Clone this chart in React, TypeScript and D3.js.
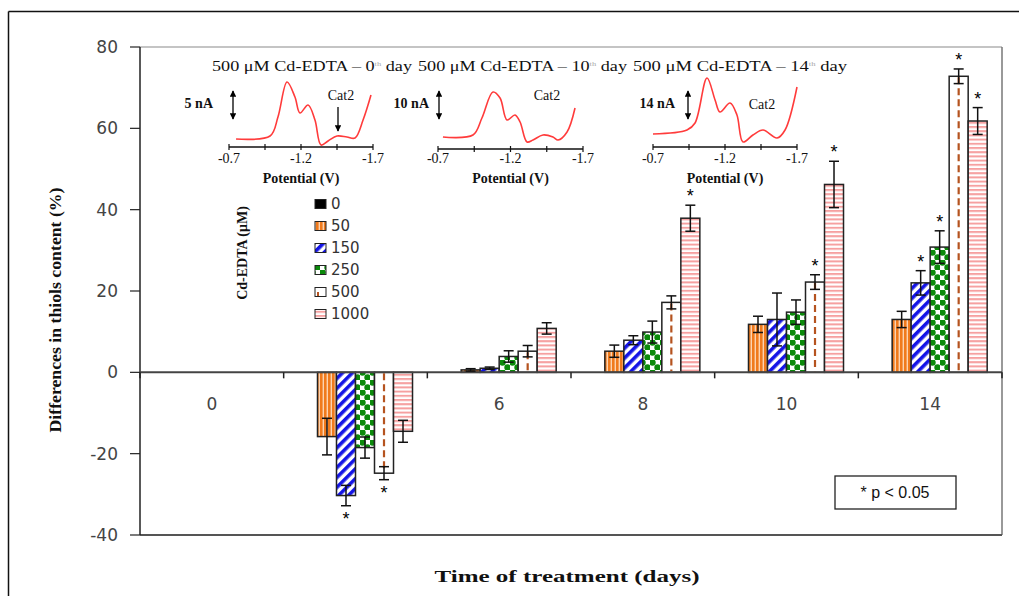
import React from "react";
import * as d3 from "d3";

const days = ["0", "2", "6", "8", "10", "14"];
const doses = ["0", "50", "150", "250", "500", "1000"];

const dose0 = [0, 0, 0, 0, 0, 0];
const dose50 = [0, -15.8, 0.6, 5.2, 11.8, 13];
const dose150 = [0, -30.3, 1, 7.9, 13, 22];
const dose250 = [0, -18.5, 3.9, 9.9, 14.8, 30.8];
const dose500 = [0, -24.8, 5.2, 17.2, 22.2, 72.8];
const dose1000 = [0, -14.5, 10.8, 37.9, 46.2, 61.8];

const err0 = [0, 0, 0, 0, 0, 0];
const err50 = [0, 4.5, 0.3, 1.5, 2, 2];
const err150 = [0, 2.5, 0.3, 1.1, 6.5, 3];
const err250 = [0, 2.6, 1.4, 2.7, 3, 4];
const err500 = [0, 1.6, 1.4, 1.6, 1.8, 1.8];
const err1000 = [0, 2.7, 1.4, 3.2, 5.7, 3.3];

const star0 = [false, false, false, false, false, false];
const star50 = [false, false, false, false, false, false];
const star150 = [false, true, false, false, false, true];
const star250 = [false, false, false, false, false, true];
const star500 = [false, true, false, false, true, true];
const star1000 = [false, false, false, true, true, true];

const values = [dose0, dose50, dose150, dose250, dose500, dose1000];
const errors = [err0, err50, err150, err250, err500, err1000];
const stars = [star0, star50, star150, star250, star500, star1000];

const yTicks = [-40, -20, 0, 20, 40, 60, 80];

// inset voltammograms: [potential (V), relative current]
const curveDay0: [number, number][] = [
  [-0.749, 8], [-0.985, 11], [-1.04, 30], [-1.103, 65], [-1.158, 50], [-1.193, 34],
  [-1.249, 42], [-1.297, 27], [-1.339, 2], [-1.388, 6], [-1.45, 11], [-1.519, 10],
  [-1.575, 9], [-1.631, 27], [-1.686, 52],
];
const curveDay10: [number, number][] = [
  [-0.734, 12], [-0.941, 14], [-1.003, 31], [-1.079, 57], [-1.128, 51], [-1.176, 29],
  [-1.231, 34], [-1.266, 27], [-1.314, 7], [-1.355, 9], [-1.424, 14], [-1.493, 12],
  [-1.528, 9], [-1.59, 17], [-1.645, 41],
];
const curveDay14: [number, number][] = [
  [-0.7, 13], [-0.936, 17], [-0.992, 24], [-1.075, 69], [-1.131, 47], [-1.165, 35],
  [-1.235, 44], [-1.283, 32], [-1.325, 5], [-1.394, 12], [-1.464, 17], [-1.561, 9],
  [-1.617, 17], [-1.7, 60],
];
const insetTitles = ["0", "10", "14"];
const insetScales = ["5 nA", "10 nA", "14 nA"];
const insetTicks = [-0.7, -0.95, -1.2, -1.45, -1.7];
const insetTickLabels = [-0.7, -1.2, -1.7];

const insets = [
  { data: curveDay0, x0: 229, x1: 373, axisY: 147, titleX: 212, titleW: 200, nAx: 213, arrowX: 233, catX: 341, catY: 100, catArrow: true },
  { data: curveDay10, x0: 438, x1: 583, axisY: 149, titleX: 418, titleW: 209, nAx: 429, arrowX: 439, catX: 547, catY: 100, catArrow: false },
  { data: curveDay14, x0: 653, x1: 797, axisY: 147, titleX: 633, titleW: 214, nAx: 675, arrowX: 688, catX: 762, catY: 109, catArrow: false },
];

const fills = ["#000", "url(#p50)", "url(#p150)", "url(#p250)", "#fff", "url(#p1000)"];

const serif = "'Liberation Serif', 'DejaVu Serif', serif";
const sans = "'DejaVu Sans', sans-serif";
const arial = "'Liberation Sans', Arial, sans-serif";

export default function App() {
  const W = 1019, H = 596;
  const left = 140, right = 1002, top = 47, bottom = 535;
  const y = d3.scaleLinear().domain([-40, 80]).range([bottom, top]);
  const x0 = d3.scaleBand<string>().domain(days).range([left, right]);
  const x1 = d3.scaleBand<string>().domain(doses).range([0, x0.bandwidth()]).paddingOuter(0.78);
  const bw = x1.bandwidth();
  const y0 = y(0);

  const legendY = d3.scalePoint<string>().domain(doses).range([204, 314]);

  return (
    <div style={{ position: "absolute", left: 0, top: 0 }}>
      <svg width={W} height={H} style={{ display: "block", background: "#fff" }}>
        <defs>
          <pattern id="p50" patternUnits="userSpaceOnUse" width={4} height={4}>
            <rect width={4} height={4} fill="#fcd3b0" />
            <rect width={2.6} height={4} fill="#f07a1c" />
          </pattern>
          <pattern id="p150" patternUnits="userSpaceOnUse" width={7} height={7} patternTransform="rotate(-45)">
            <rect width={7} height={7} fill="#fff" />
            <rect width={7} height={3.6} fill="#1414e6" />
          </pattern>
          <pattern id="p250" patternUnits="userSpaceOnUse" width={10} height={10}>
            <rect width={10} height={10} fill="#fff" />
            <circle cx={2.5} cy={2.5} r={3.2} fill="#0b8a0b" />
            <circle cx={7.5} cy={7.5} r={3.2} fill="#0b8a0b" />
          </pattern>
          <pattern id="p1000" patternUnits="userSpaceOnUse" width={4} height={4.2}>
            <rect width={4} height={4.2} fill="#fff" />
            <rect width={4} height={2} fill="#f6a0a0" />
          </pattern>
          <marker id="arr" viewBox="0 0 10 10" refX={9} refY={5} markerWidth={5} markerHeight={5} orient="auto-start-reverse">
            <path d="M0,0 L10,5 L0,10 z" fill="#000" />
          </marker>
        </defs>

        {/* outer frame */}
        <line x1={8.5} y1={11.5} x2={W} y2={11.5} stroke="#111" strokeWidth={1.5} />
        <line x1={8.5} y1={11.5} x2={8.5} y2={H} stroke="#111" strokeWidth={1.5} />

        {/* plot area border */}
        <line x1={left} y1={top} x2={right} y2={top} stroke="#b0b0b0" strokeWidth={1.5} />
        <line x1={right} y1={top} x2={right} y2={bottom} stroke="#777" strokeWidth={1.5} />
        <line x1={left} y1={bottom} x2={right} y2={bottom} stroke="#555" strokeWidth={2} />

        {/* y axis */}
        <line x1={left} y1={top} x2={left} y2={bottom} stroke="#222" strokeWidth={1.5} />
        {yTicks.map((t) => (
          <g key={t}>
            <line x1={left - 10} x2={left} y1={y(t)} y2={y(t)} stroke="#222" strokeWidth={1.2} />
            <text x={118} y={y(t)} dy="0.36em" textAnchor="end" fontFamily={sans} fontSize={17} fill="#444">{t}</text>
          </g>
        ))}

        {/* category labels */}
        {days.map((d) => (
          <text key={d} x={(x0(d) as number) + x0.bandwidth() / 2} y={410} textAnchor="middle" fontFamily={sans} fontSize={17} fill="#444">{d}</text>
        ))}

        {/* bars */}
        {doses.map((dose, si) =>
          days.map((day, di) => {
            const v = values[si][di];
            if (v === 0) return null;
            const bx = (x0(day) as number) + (x1(dose) as number);
            const yt = Math.min(y(v), y0);
            const h = Math.abs(y(v) - y0);
            return (
              <g key={dose + "-" + day}>
                <rect x={bx} y={yt} width={bw} height={h} fill={fills[si]} stroke="#222" strokeWidth={1.5} />
                {dose === "500" && (
                  <line x1={bx + bw / 2} x2={bx + bw / 2} y1={yt + 1} y2={yt + h - 1} stroke="#b5531f" strokeWidth={2.2} strokeDasharray="7,4" />
                )}
              </g>
            );
          })
        )}

        {/* x axis */}
        <line x1={left} x2={right} y1={y0} y2={y0} stroke="#444" strokeWidth={2} />
        {d3.range(days.length + 1).map((i) => {
          const xx = left + i * x0.bandwidth();
          return <line key={i} x1={xx} x2={xx} y1={y0} y2={y0 + 6} stroke="#222" strokeWidth={1.5} />;
        })}

        {/* error bars and stars */}
        {doses.map((dose, si) =>
          days.map((day, di) => {
            const v = values[si][di];
            const e = errors[si][di];
            if (v === 0 || e === 0) return null;
            const cx = (x0(day) as number) + (x1(dose) as number) + bw / 2;
            const yHi = y(v + e), yLo = y(v - e);
            const s = stars[si][di];
            return (
              <g key={"e" + dose + day}>
                <g stroke="#111" strokeWidth={1.5}>
                  <line x1={cx} x2={cx} y1={yHi} y2={yLo} />
                  <line x1={cx - 5} x2={cx + 5} y1={yHi} y2={yHi} />
                  <line x1={cx - 5} x2={cx + 5} y1={yLo} y2={yLo} />
                </g>
                {s && (
                  <text x={cx} y={v > 0 ? yHi - 3 : yLo + 19} textAnchor="middle" fontFamily={arial} fontSize={18} fill="#000">*</text>
                )}
              </g>
            );
          })
        )}

        {/* insets */}
        {insets.map((ins, k) => {
          const xs = d3.scaleLinear().domain([-0.7, -1.7]).range([ins.x0, ins.x1]);
          const ys = d3.scaleLinear().domain([0, 70]).range([ins.axisY, ins.axisY - 70]);
          const line = d3.line<[number, number]>().x((d) => xs(d[0])).y((d) => ys(d[1])).curve(d3.curveCatmullRom.alpha(0.5));
          const mid = (ins.x0 + ins.x1) / 2;
          return (
            <g key={k}>
              <text x={ins.titleX} y={71} fontFamily={serif} fontSize={15} fill="#111" textLength={ins.titleW} lengthAdjust="spacingAndGlyphs">
                500 μM Cd-EDTA – {insetTitles[k]}<tspan fontSize={7} dy={-5} fill="#aaa">th</tspan><tspan dy={5}> day</tspan>
              </text>
              <text x={ins.nAx} y={108} textAnchor="end" fontFamily={serif} fontWeight="bold" fontSize={14} fill="#111">{insetScales[k]}</text>
              <line x1={ins.arrowX} x2={ins.arrowX} y1={91} y2={119} stroke="#000" strokeWidth={1.3} markerStart="url(#arr)" markerEnd="url(#arr)" />
              <text x={ins.catX} y={ins.catY} textAnchor="middle" fontFamily={serif} fontSize={14} fill="#111">Cat2</text>
              {ins.catArrow && (
                <line x1={338} x2={338} y1={107} y2={131} stroke="#000" strokeWidth={1.3} markerEnd="url(#arr)" />
              )}
              <path d={line(ins.data) as string} fill="none" stroke="#ff3b3b" strokeWidth={1.6} />
              <line x1={ins.x0} x2={ins.x1} y1={ins.axisY} y2={ins.axisY} stroke="#111" strokeWidth={1.3} />
              {insetTicks.map((t) => (
                <line key={t} x1={xs(t)} x2={xs(t)} y1={ins.axisY - 3} y2={ins.axisY + 3} stroke="#111" strokeWidth={1.2} />
              ))}
              {insetTickLabels.map((t) => (
                <text key={t} x={xs(t)} y={163} textAnchor="middle" fontFamily={serif} fontSize={14} fill="#111">{t.toFixed(1)}</text>
              ))}
              <text x={mid} y={183} textAnchor="middle" fontFamily={serif} fontWeight="bold" fontSize={14} fill="#111">Potential (V)</text>
            </g>
          );
        })}

        {/* legend */}
        {doses.map((dose, si) => {
          const ly = legendY(dose) as number;
          return (
            <g key={"lg" + dose}>
              <rect x={315} y={ly - 4.5} width={11} height={9} fill={fills[si]} stroke="#222" strokeWidth={1} />
              {dose === "500" && <line x1={318} x2={318} y1={ly} y2={ly + 4} stroke="#b5531f" strokeWidth={2} />}
              <text x={331} y={ly} dy="0.36em" fontFamily={sans} fontSize={15} fill="#333">{dose}</text>
            </g>
          );
        })}
        <text transform="translate(247,253) rotate(-90)" textAnchor="middle" fontFamily={serif} fontWeight="bold" fontSize={14} fill="#111">Cd-EDTA (μM)</text>

        {/* p box */}
        <rect x={835} y={476} width={121} height={33} fill="#fff" stroke="#222" strokeWidth={1.3} />
        <text x={895} y={498} textAnchor="middle" fontFamily={arial} fontSize={16} fill="#111">* p &lt; 0.05</text>

        {/* axis titles */}
        <text transform="translate(61,310) rotate(-90)" textAnchor="middle" fontFamily={serif} fontWeight="bold" fontSize={17} fill="#111" textLength={245} lengthAdjust="spacingAndGlyphs">Differences in thiols content (%)</text>
        <text x={567} y={582} textAnchor="middle" fontFamily={serif} fontWeight="bold" fontSize={17} fill="#111" textLength={265} lengthAdjust="spacingAndGlyphs">Time of treatment (days)</text>
      </svg>
    </div>
  );
}
